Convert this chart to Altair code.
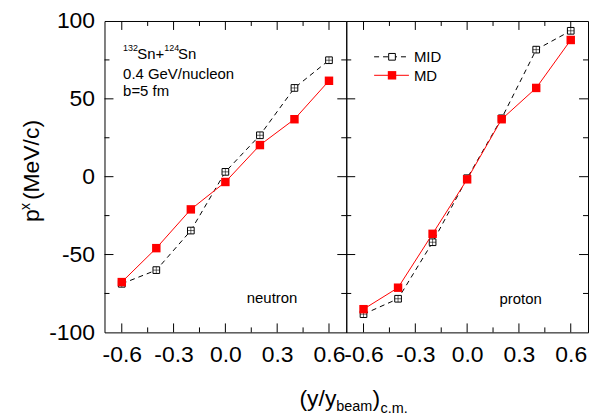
import altair as alt
import pandas as pd

# ---------------- data ----------------
rapidity = [-0.6, -0.4, -0.2, 0.0, 0.2, 0.4, 0.6]
neutron_mid = [-68.8, -60.0, -34.6, 3.1, 26.6, 57.0, 74.8]
neutron_md = [-67.7, -45.9, -21.0, -3.4, 20.3, 36.9, 61.6]
proton_mid = [-88.3, -78.4, -42.1, -1.0, 37.5, 81.6, 93.7]
proton_md = [-85.1, -71.3, -36.7, -1.7, 36.9, 57.0, 87.8]

x_major = [-0.6, -0.3, 0.0, 0.3, 0.6]
x_minor = [-0.45, -0.15, 0.15, 0.45]
y_labels = [-100, -50, 0, 50, 100]
y_major = [-50, 0, 50]
y_minor = [-75, -25, 25, 75]

# ---------------- style ----------------
W, H = 243, 313
FONT = "Liberation Sans"
RED = "#ff0000"
MAJ, MIN = 9, 5

xscale = alt.Scale(domain=[-0.7, 0.7], nice=False, zero=False)
yscale = alt.Scale(domain=[-100, 100], nice=False, zero=False)

xaxis = alt.Axis(values=x_major, labelExpr="datum.value == 0 ? '0.0' : '' + datum.value",
                 ticks=False, tickSize=0, domain=False, grid=False, title=None,
                 labelFontSize=23, labelFont=FONT, labelColor="black",
                 labelPadding=11, labelFlush=False, labelOverlap=False)
yaxis = alt.Axis(values=y_labels, labelExpr="'' + datum.value",
                 ticks=False, tickSize=0, domain=False, grid=False, title=None,
                 labelFontSize=23, labelFont=FONT, labelColor="black",
                 labelPadding=10, labelFlush=False, labelOverlap=False)


def txt(s, x, y, size, angle=0, align="left", baseline="alphabetic", color="black"):
    return alt.Chart(pd.DataFrame({"s": [s]})).mark_text(
        align=align, baseline=baseline, fontSize=size, font=FONT, angle=angle, color=color
    ).encode(x=alt.value(x), y=alt.value(y), text="s:N")


def tick_layers(ya):
    layers = []
    for vals, ln in ((x_major, MAJ), (x_minor, MIN)):
        d = pd.DataFrame({"t": vals})
        layers.append(alt.Chart(d).mark_rule(color="black", strokeWidth=1).encode(
            x=alt.X("t:Q", scale=xscale, axis=xaxis), y=alt.value(0), y2=alt.value(ln)))
        layers.append(alt.Chart(d).mark_rule(color="black", strokeWidth=1).encode(
            x=alt.X("t:Q", scale=xscale, axis=xaxis), y=alt.value(H), y2=alt.value(H - ln)))
    for vals, ln in ((y_major, MAJ), (y_minor, MIN)):
        d = pd.DataFrame({"t": vals})
        layers.append(alt.Chart(d).mark_rule(color="black", strokeWidth=1).encode(
            y=alt.Y("t:Q", scale=yscale, axis=ya), x=alt.value(0), x2=alt.value(ln)))
        layers.append(alt.Chart(d).mark_rule(color="black", strokeWidth=1).encode(
            y=alt.Y("t:Q", scale=yscale, axis=ya), x=alt.value(W), x2=alt.value(W - ln)))
    return layers


def panel(mid, md, show_y, extra):
    ya = yaxis if show_y else None
    df = pd.DataFrame({"r": rapidity, "mid": mid, "md": md})
    base = alt.Chart(df)

    def enc(field):
        return dict(x=alt.X("r:Q", scale=xscale, axis=xaxis),
                    y=alt.Y(field + ":Q", scale=yscale, axis=ya))

    mid_line = base.mark_line(color="black", strokeWidth=1, strokeDash=[5, 4]).encode(**enc("mid"))
    mid_pts = base.mark_point(shape="square", size=45, filled=True, fill="white",
                              stroke="black", strokeWidth=1, opacity=1).encode(**enc("mid"))
    mid_cross = base.mark_point(shape="M-1,0L1,0M0,-1L0,1", size=45, filled=False,
                                stroke="black", strokeWidth=0.6, opacity=1).encode(**enc("mid"))
    md_line = base.mark_line(color=RED, strokeWidth=1).encode(**enc("md"))
    md_pts = base.mark_point(shape="square", size=72, filled=True, color=RED,
                             opacity=1).encode(**enc("md"))
    layers = [mid_line] + tick_layers(ya) + [mid_pts, mid_cross, md_line, md_pts] + extra
    return alt.layer(*layers).properties(width=W, height=H)


# left panel annotations (y title, reaction info, x title, label)
left_extra = [
    txt("132", 18.7, 30.3, 9),
    txt("Sn+", 33, 38.3, 15),
    txt("124", 60, 30.3, 9),
    txt("Sn", 74, 38.3, 15),
    txt("0.4 GeV/nucleon", 18.7, 58.3, 15),
    txt("b=5 fm", 18.7, 75.3, 15),
    txt("neutron", 143, H - 30, 15),
    txt("p", -66, 202, 23, angle=270),
    txt("x", -75, 190, 14, angle=270),
    txt("(MeV/c)", -66, 180, 23, angle=270),
    txt("(y/y", 196, H + 74, 23),
    txt("beam", 233, H + 79.5, 14.5),
    txt(")", 269.5, H + 74, 23),
    txt("c.m.", 277.5, H + 81, 14.5),
]

one = pd.DataFrame({"a": [0]})
right_extra = [
    alt.Chart(one).mark_rule(color="black", strokeWidth=1, strokeDash=[5, 4]).encode(
        x=alt.value(28), x2=alt.value(63), y=alt.value(36)),
    alt.Chart(one).mark_point(shape="square", size=45, filled=True, fill="white",
                              stroke="black", strokeWidth=1, opacity=1).encode(
        x=alt.value(46), y=alt.value(36)),
    txt("MID", 68, 41.3, 15),
    alt.Chart(one).mark_rule(color=RED, strokeWidth=1).encode(
        x=alt.value(28), x2=alt.value(63), y=alt.value(54.6)),
    alt.Chart(one).mark_point(shape="square", size=72, filled=True, color=RED, opacity=1).encode(
        x=alt.value(46), y=alt.value(54.6)),
    txt("MD", 68, 60.3, 15),
    txt("proton", 154, H - 28.3, 15),
]

left = panel(neutron_mid, neutron_md, True, left_extra)
right = panel(proton_mid, proton_md, False, right_extra)

chart = alt.hconcat(left, right, spacing=0, bounds="flush").properties(
    padding={"left": 10, "top": 0, "right": 0, "bottom": 0}
).configure_view(stroke="black", strokeWidth=1)

chart.save("out.html", embed_options={"renderer": "svg", "actions": False})
